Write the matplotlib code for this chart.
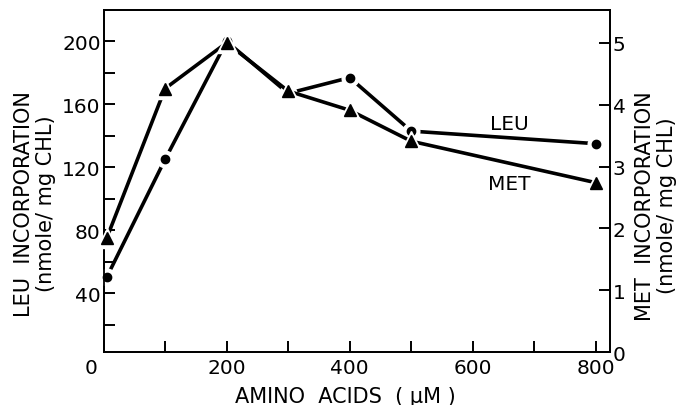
import matplotlib
matplotlib.use("Agg")
import matplotlib.pyplot as plt
import matplotlib.transforms as mtransforms

# amino acid concentration (uM)
conc = [5, 100, 200, 300, 400, 500, 800]
# LEU incorporation (nmole/mg CHL), left axis
leu = [50, 125, 200, 167, 177, 143, 135]
# MET incorporation (nmole/mg CHL), right axis
met = [1.84, 4.26, 5.0, 4.22, 3.91, 3.41, 2.74]

LW = 2.6


def draw_series(ax, x, y, marker, ms, halo):
    ax.plot(x, y, color='black', lw=LW, solid_capstyle='butt', zorder=2, clip_on=False)
    # white halo gives the small gaps around each point
    ax.plot(x, y, ls='none', marker=marker, ms=halo, mfc='white', mec='white', zorder=3, clip_on=False)
    ax.plot(x, y, ls='none', marker=marker, ms=ms, mfc='black', mec='black', zorder=4, clip_on=False)


def main():
    fig = plt.figure(figsize=(6.87, 4.06), dpi=100)
    ax = fig.add_axes([0.1507, 0.1298, 0.8879 - 0.1507, 0.973 - 0.1298])
    ax2 = ax.twinx()

    draw_series(ax, conc, leu, 'o', 6, 12)
    draw_series(ax2, conc, met, '^', 8.5, 14)

    ax.set_xlim(0, 823)
    ax.set_ylim(2.4, 220)
    ax2.set_ylim(0, 5.53)

    for a in (ax, ax2):
        for s in a.spines.values():
            s.set_linewidth(1.3)

    ax.set_xticks([0, 200, 400, 600, 800])
    ax.set_xticks([100, 300, 500, 700], minor=True)
    ax.set_yticks([40, 80, 120, 160, 200])
    ax.set_yticks([20, 60, 100, 140, 180], minor=True)
    ax2.set_yticks([0, 1, 2, 3, 4, 5])

    ax.tick_params(axis='both', which='both', direction='in', length=8, width=1.4,
                   labelsize=14.5, pad=4)
    ax.tick_params(axis='y', which='both', right=False, pad=2)
    ax.tick_params(axis='x', which='both', top=False, pad=4)
    ax2.tick_params(axis='y', direction='in', length=8, width=1.4, labelsize=14.5, pad=2)

    # the lone "0" sits left of the corner
    lbl0 = ax.get_xticklabels()[0]
    lbl0.set_transform(lbl0.get_transform() +
                       mtransforms.ScaledTranslation(-12 / 100, 0, fig.dpi_scale_trans))

    ax.text(660, 148, 'LEU', fontsize=14.5, ha='center', va='center')
    ax.text(660, 110, 'MET', fontsize=14.5, ha='center', va='center')

    fig.text(345 / 687, 1 - 397 / 406, 'AMINO  ACIDS  ( \u03bcM )',
             fontsize=15, ha='center', va='center')
    fig.text(35 / 687, 1 - 204 / 406, 'LEU  INCORPORATION\n(nmole/ mg CHL)',
             fontsize=15, rotation=90, ha='center', va='center',
             multialignment='center', linespacing=1.1)
    fig.text(656 / 687, 1 - 206 / 406, 'MET  INCORPORATION\n(nmole/ mg CHL)',
             fontsize=15, rotation=90, ha='center', va='center',
             multialignment='center', linespacing=1.1)

    fig.savefig('out.png', dpi=100)


if __name__ == "__main__":
    main()
